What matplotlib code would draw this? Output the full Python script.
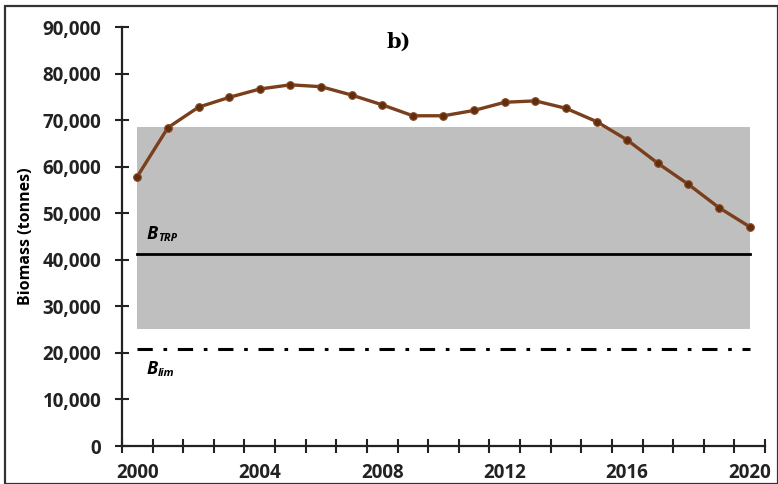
import numpy as np
import matplotlib.pyplot as plt
from matplotlib.patches import Rectangle

years = list(range(2000, 2021))
biomass = [57900, 68400, 72800, 74900, 76700, 77600, 77200, 75400, 73300, 70950,
           70950, 72100, 73850, 74150, 72550, 69700, 65750, 60750, 56200, 51200, 47100]
band_low, band_high = 25100, 68600
b_trp = 41300
b_lim = 20850
tick_years = [2000, 2004, 2008, 2012, 2016, 2020]

plt.rcParams['font.family'] = ['Open Sans', 'DejaVu Sans']

fig = plt.figure(figsize=(7.78, 4.84), dpi=100)
ax = fig.add_axes([0.1568, 0.0785, 0.8265, 0.8655])

x = np.arange(len(years))

# shaded range and reference points
ax.fill_between([x[0], x[-1]], band_low, band_high, color='#bfbfbf', lw=0, zorder=1)
ax.plot([x[0], x[-1]], [b_trp, b_trp], color='black', lw=2, zorder=2)
ax.plot([x[0], x[-1]], [b_lim, b_lim], color='black', lw=2.2,
        dashes=(5, 3.5, 1.2, 3.5), zorder=2)

ax.plot(x, biomass, '-', color='#7a3f1c', lw=2.4, marker='o', ms=5.5,
        mfc='#5e2e0e', mec='#8a4a22', mew=0.8, zorder=3)

ax.set_xlim(-0.5, len(years) - 0.5)
ax.set_ylim(0, 90000)
ax.set_yticks(np.arange(0, 90001, 10000))
ax.set_yticklabels([f'{v:,}' for v in range(0, 90001, 10000)])
ax.set_xticks([years.index(t) for t in tick_years])
ax.set_xticklabels([str(t) for t in tick_years])
ax.set_xticks(np.arange(-0.5, len(years)), minor=True)

for s in ['top', 'right']:
    ax.spines[s].set_visible(False)
for s in ['left', 'bottom']:
    ax.spines[s].set_linewidth(1.6)
    ax.spines[s].set_color('#222222')

ax.tick_params(axis='y', direction='inout', length=10, width=1.5, pad=10,
               labelsize=13.5, colors='#222222')
ax.tick_params(axis='x', which='major', length=0, pad=12, labelsize=13.5, colors='#222222')
ax.tick_params(axis='x', which='minor', direction='inout', length=10, width=1.5,
               color='#222222')
for lab in ax.get_xticklabels() + ax.get_yticklabels():
    lab.set_fontweight('bold')

ax.set_ylabel('Biomass (tonnes)', fontsize=11.5, fontweight='bold', labelpad=6)

# labels
ax.text(0.43, 0.965, 'b)', transform=ax.transAxes, fontsize=15, fontweight='bold',
        family='DejaVu Serif', ha='center', va='center')
ax.annotate('B', (0.3, b_trp), xytext=(0, 8), textcoords='offset points',
            fontsize=13, fontweight='bold', style='italic', va='bottom')
ax.annotate('TRP', (0.3, b_trp), xytext=(8, 7), textcoords='offset points',
            fontsize=8, fontweight='bold', style='italic', va='bottom')
ax.annotate('B', (0.3, b_lim), xytext=(0, -8), textcoords='offset points',
            fontsize=13, fontweight='bold', style='italic', va='top')
ax.annotate('lim', (0.3, b_lim), xytext=(8, -14), textcoords='offset points',
            fontsize=8, fontweight='bold', style='italic', va='top')

fig.patches.append(Rectangle((0.007, 0.0), 0.993, 0.988, transform=fig.transFigure,
                             fill=False, ec='#333333', lw=1.6))

fig.savefig('out.png', dpi=100)
